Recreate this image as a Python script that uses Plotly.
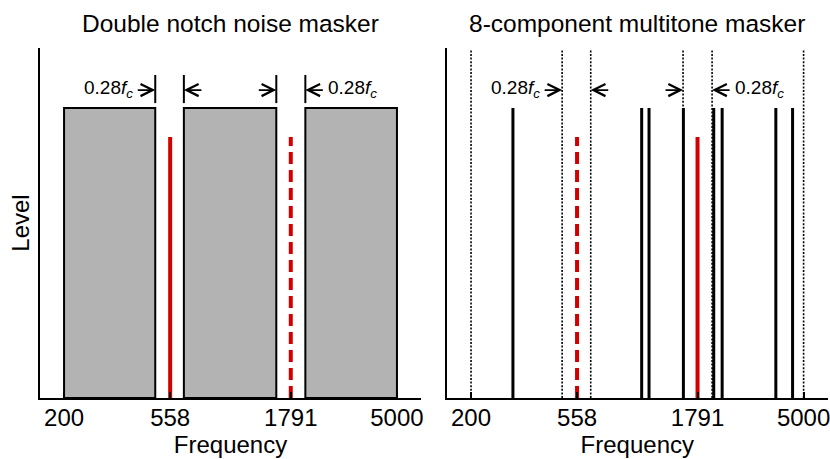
import numpy as np
import plotly.graph_objects as go

# ---------------- data ----------------
tick_vals = [200, 558, 1791, 5000]
tick_text = ["200", "558", "1791", "5000"]
signal_freqs = [558, 1791]
masker_level = 1.0
signal_level = 0.9
notch_lo = [483, 1557]          # lower edges of the two notches
notch_hi = [637, 2062]          # upper edges of the two notches
band_lo = [200, 637, 2062]      # noise bands (left panel)
band_hi = [483, 1557, 5000]
multitone_freqs = [300, 1043, 1120, 1562, 2095, 2273, 3822, 4494]
guide_freqs = [200, 483, 637, 1557, 2062, 5000]
titles = ["Double notch noise masker", "8-component multitone masker"]
notch_label = "0.28<i>f</i><sub><i>c</i></sub>"

FONT = "Liberation Sans, Arial, Helvetica, sans-serif"
RED = "#d40000"
GRAY = "#b3b3b3"
ARROW_Y = 1.062
BAR_Y = [1.017, 1.114]
TOP = 1.2
FS = 24

fig = go.Figure()

# ---------- left panel ----------
for lo, hi in zip(band_lo, band_hi):
    fig.add_trace(go.Scatter(
        x=[lo, lo, hi, hi, lo], y=[0, masker_level, masker_level, 0, 0],
        mode="lines", fill="toself", fillcolor=GRAY,
        line=dict(color="black", width=2), xaxis="x", yaxis="y",
        showlegend=False, hoverinfo="skip"))

fig.add_trace(go.Scatter(x=[signal_freqs[0]] * 2, y=[0, signal_level], mode="lines",
                         line=dict(color=RED, width=4), xaxis="x", yaxis="y",
                         showlegend=False))
fig.add_trace(go.Scatter(x=[signal_freqs[1]] * 2, y=[0, signal_level], mode="lines",
                         line=dict(color=RED, width=4, dash="12px,6px"), xaxis="x", yaxis="y",
                         showlegend=False))

# edge bars above the notches
bx, by = [], []
for e in notch_lo + notch_hi:
    bx += [e, e, None]
    by += [BAR_Y[0], BAR_Y[1], None]
fig.add_trace(go.Scatter(x=bx, y=by, mode="lines", line=dict(color="black", width=2),
                         xaxis="x", yaxis="y", showlegend=False))

# ---------- right panel ----------
gx, gy = [], []
for g in guide_freqs:
    gx += [g, g, None]
    gy += [0, TOP, None]
fig.add_trace(go.Scatter(x=gx, y=gy, mode="lines",
                         line=dict(color="black", width=1.6, dash="2px,1.6px"),
                         xaxis="x2", yaxis="y2", showlegend=False))

mx, my = [], []
for f in multitone_freqs:
    mx += [f, f, None]
    my += [0, masker_level, None]
fig.add_trace(go.Scatter(x=mx, y=my, mode="lines", line=dict(color="black", width=3),
                         xaxis="x2", yaxis="y2", showlegend=False))

fig.add_trace(go.Scatter(x=[signal_freqs[0]] * 2, y=[0, signal_level], mode="lines",
                         line=dict(color=RED, width=4, dash="12px,6px"), xaxis="x2", yaxis="y2",
                         showlegend=False))
fig.add_trace(go.Scatter(x=[signal_freqs[1]] * 2, y=[0, signal_level], mode="lines",
                         line=dict(color=RED, width=4), xaxis="x2", yaxis="y2",
                         showlegend=False))

# ---------- arrows & labels ----------
ann = []
for xr, yr in (("x", "y"), ("x2", "y2")):
    for e in notch_lo:
        ann.append(dict(x=np.log10(e), y=ARROW_Y, xref=xr, yref=yr, ax=-19, ay=0,
                        text="", showarrow=True, arrowhead=5, arrowwidth=1.7,
                        arrowsize=1.4, arrowcolor="black", standoff=0))
    for e in notch_hi:
        ann.append(dict(x=np.log10(e), y=ARROW_Y, xref=xr, yref=yr, ax=19, ay=0,
                        text="", showarrow=True, arrowhead=5, arrowwidth=1.7,
                        arrowsize=1.4, arrowcolor="black", standoff=0))
    ann.append(dict(x=np.log10(notch_lo[0]), y=ARROW_Y, xref=xr, yref=yr,
                    xanchor="right", yanchor="middle", xshift=-20, yshift=1,
                    text=notch_label, showarrow=False,
                    font=dict(family=FONT, size=19, color="black")))
    ann.append(dict(x=np.log10(notch_hi[1]), y=ARROW_Y, xref=xr, yref=yr,
                    xanchor="left", yanchor="middle", xshift=21, yshift=1,
                    text=notch_label, showarrow=False,
                    font=dict(family=FONT, size=19, color="black")))

dom1 = [0.0, 0.4823]
dom2 = [0.5152, 0.997]
for dom, t in zip((dom1, dom2), titles):
    ann.append(dict(x=(dom[0] + dom[1]) / 2, y=1, xref="paper", yref="paper",
                    xanchor="center", yanchor="middle", yshift=25, text=t,
                    showarrow=False, font=dict(family=FONT, size=24.5, color="black")))

xcommon = dict(type="log", range=[2.2, 3.8], tickvals=tick_vals, ticktext=tick_text,
               showline=True, linecolor="black", linewidth=2, ticks="inside",
               ticklen=6, tickwidth=1.5, tickcolor="black", showgrid=False,
               zeroline=False, tickfont=dict(family=FONT, size=FS, color="black"),
               automargin=False, ticklabeloverflow="allow", ticklabelstandoff=-3,
               title=dict(text="Frequency", font=dict(family=FONT, size=FS, color="black"),
                          standoff=0))
ycommon = dict(range=[0, 1.207], showline=True, linecolor="black", linewidth=2,
               showticklabels=False, ticks="", showgrid=False, zeroline=False,
               automargin=False)

fig.update_layout(
    width=830, height=459,
    margin=dict(l=40, r=0, t=48, b=61),
    paper_bgcolor="white", plot_bgcolor="white",
    xaxis=dict(domain=dom1, anchor="y", **xcommon),
    yaxis=dict(domain=[0, 1], anchor="x",
               title=dict(text="Level", font=dict(family=FONT, size=FS, color="black"),
                          standoff=2), **ycommon),
    xaxis2=dict(domain=dom2, anchor="y2", **xcommon),
    yaxis2=dict(domain=[0, 1], anchor="x2", **ycommon),
    annotations=ann,
    showlegend=False,
)

fig.write_html("out.html", config={"displayModeBar": False},
               post_script="document.body.style.margin='0';document.body.style.padding='0';"
                           "document.body.style.overflow='hidden';")
